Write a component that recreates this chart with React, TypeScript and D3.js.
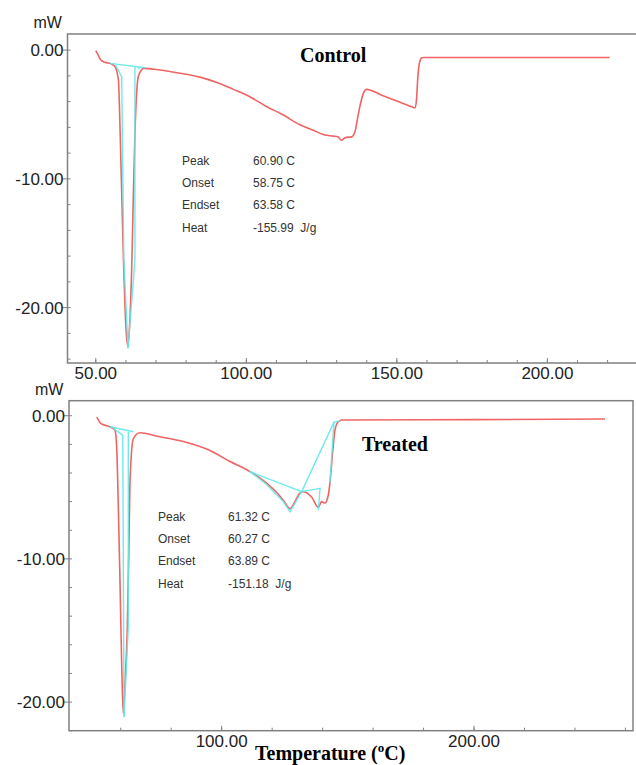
import { useEffect, useRef } from "react";
import * as d3 from "d3";

// Control DSC trace (temperature °C, heat flow mW)
const controlT = [50.0, 50.8, 51.6, 53, 55, 56.4, 57.5, 58.1, 58.7, 59.2, 60.0, 60.6, 61.2, 62.0, 62.5, 63.0, 63.6, 64.1, 65.0, 65.8, 71.3, 78, 84.6, 90, 95.7, 101, 106.8, 112, 117.8, 122, 126.1, 128.9, 130.5, 131.6, 132.5, 133.3, 135.0, 136.1, 136.8, 137.7, 138.8, 139.9, 145, 150, 155, 156.0, 156.5, 157.0, 157.6, 158.3, 159.3, 190, 220.7];
const controlV = [-0.05, -0.4, -0.75, -0.95, -1.05, -1.3, -2.3, -6.5, -12, -16.3, -21.5, -23.0, -21.5, -16.3, -11, -6.5, -3.2, -2.07, -1.6, -1.42, -1.55, -1.8, -2.1, -2.5, -3.05, -3.6, -4.4, -5.0, -5.8, -6.2, -6.6, -6.68, -6.75, -7.0, -6.85, -6.78, -6.74, -6.35, -5.5, -4.4, -3.4, -3.05, -3.5, -3.95, -4.4, -4.48, -3.9, -2.0, -0.9, -0.6, -0.57, -0.57, -0.58];

// Treated DSC trace
const treatedT = [50.5, 51.2, 51.8, 53.5, 55.7, 57.7, 58.4, 59.0, 59.7, 60.4, 61.0, 61.6, 62.6, 63.2, 63.7, 65.0, 67.6, 75, 84.8, 95, 103.3, 111.2, 117.8, 122, 124.4, 127.1, 128.4, 131.0, 132.3, 135.7, 138.3, 139.6, 140.9, 142.3, 142.9, 144.0, 144.9, 146.2, 147.6, 200, 251.9];
const treatedV = [-0.1, -0.3, -0.49, -0.65, -0.77, -1.0, -2.2, -6.0, -11.5, -17.5, -20.8, -19.0, -14.8, -9.5, -4.5, -1.6, -1.19, -1.45, -1.8, -2.4, -3.2, -3.9, -4.7, -5.4, -5.9, -6.5, -6.2, -5.4, -5.3, -5.7, -6.4, -6.0, -6.1, -5.5, -4.7, -2.5, -1.0, -0.42, -0.3, -0.27, -0.23];

// cyan baseline / integration construction lines
const controlCyan: [number, number][][] = [
  [[54.8, -1.03], [66.4, -1.37]],
  [[56.5, -1.15], [58.6, -2.07], [59.3, -16.2], [60.7, -23.15]],
  [[63.0, -1.3], [63.0, -16.3], [60.7, -23.15]],
  [[64.1, -1.45], [64.7, -1.36]],
];
const treatedCyan: [number, number][][] = [
  [[55.7, -0.77], [65.0, -1.12]],
  [[57.0, -0.88], [60.8, -1.35], [61.3, -21.05]],
  [[63.0, -1.12], [63.0, -14.75], [61.3, -21.05]],
  [[111.2, -3.9], [131.7, -5.3]],
  [[111.2, -3.9], [117.8, -4.8], [124.4, -6.0], [127.1, -6.7], [131.7, -5.3]],
  [[131.7, -5.3], [139.0, -5.07], [138.3, -6.6]],
  [[131.7, -5.3], [144.5, -0.45], [147.0, -0.35]],
  [[144.5, -0.45], [142.9, -4.7]],
];

const controlStats = [
  ["Peak", "60.90 C"],
  ["Onset", "58.75 C"],
  ["Endset", "63.58 C"],
  ["Heat", "-155.99  J/g"],
];
const treatedStats = [
  ["Peak", "61.32 C"],
  ["Onset", "60.27 C"],
  ["Endset", "63.89 C"],
  ["Heat", "-151.18  J/g"],
];

const yMajor = [0, -10, -20];
const controlXMajor = [50, 100, 150, 200];
const treatedXMajor = [100, 200];

const RED = "#f06464";
const CYAN = "#5fe8e8";
const FRAME = "#808080";
const SANS = "Arial, 'Liberation Sans', sans-serif";
const SERIF = "'Times New Roman', 'Liberation Serif', serif";

interface PanelProps {
  t: number[];
  v: number[];
  cyan: [number, number][][];
  xDomain: [number, number];
  yDomain: [number, number];
  box: { left: number; right: number; top: number; bottom: number };
  xMajor: number[];
  xMinor: number[];
  yMinor: number[];
  stats: string[][];
  statsPos: { x: number; vx: number; y: number };
  title: string;
  titlePos: { x: number; y: number };
  closed: boolean;
}

const Panel = (p: PanelProps) => {
  const ref = useRef<SVGGElement | null>(null);

  useEffect(() => {
    const g = d3.select(ref.current);
    g.selectAll("*").remove();

    const x = d3.scaleLinear().domain(p.xDomain).range([p.box.left, p.box.right]);
    const y = d3.scaleLinear().domain(p.yDomain).range([p.box.top, p.box.bottom]);
    const fmt = (d: number) => d.toFixed(2); // plain hyphen like the instrument software

    // frame
    if (p.closed) {
      g.append("rect")
        .attr("x", p.box.left)
        .attr("y", p.box.top)
        .attr("width", p.box.right - p.box.left)
        .attr("height", p.box.bottom - p.box.top)
        .attr("fill", "none")
        .attr("stroke", FRAME)
        .attr("stroke-width", 1.5);
    } else {
      g.append("path")
        .attr("d", `M${p.box.right + 10},${p.box.top}H${p.box.left}V${p.box.bottom}H${p.box.right + 10}`)
        .attr("fill", "none")
        .attr("stroke", FRAME)
        .attr("stroke-width", 1.5);
    }

    // x ticks (inside)
    g.selectAll("line.xmin")
      .data(p.xMinor)
      .join("line")
      .attr("x1", (d) => x(d))
      .attr("x2", (d) => x(d))
      .attr("y1", p.box.bottom)
      .attr("y2", p.box.bottom - 3)
      .attr("stroke", FRAME);
    g.selectAll("line.xmaj")
      .data(p.xMajor)
      .join("line")
      .attr("x1", (d) => x(d))
      .attr("x2", (d) => x(d))
      .attr("y1", p.box.bottom)
      .attr("y2", p.box.bottom - 5)
      .attr("stroke", FRAME);
    g.selectAll("text.xl")
      .data(p.xMajor)
      .join("text")
      .attr("x", (d) => x(d))
      .attr("y", p.box.bottom + 16)
      .attr("text-anchor", "middle")
      .attr("font-family", SANS)
      .attr("font-size", 17)
      .attr("fill", "#222")
      .text(fmt);

    // y ticks
    g.selectAll("line.ymin")
      .data(p.yMinor)
      .join("line")
      .attr("x1", p.box.left)
      .attr("x2", p.box.left + 3)
      .attr("y1", (d) => y(d))
      .attr("y2", (d) => y(d))
      .attr("stroke", FRAME);
    g.selectAll("line.ymaj")
      .data(yMajor)
      .join("line")
      .attr("x1", p.box.left - 5)
      .attr("x2", p.box.left)
      .attr("y1", (d) => y(d))
      .attr("y2", (d) => y(d))
      .attr("stroke", FRAME);
    g.selectAll("text.yl")
      .data(yMajor)
      .join("text")
      .attr("x", p.box.left - 4)
      .attr("y", (d) => y(d) + 6)
      .attr("text-anchor", "end")
      .attr("font-family", SANS)
      .attr("font-size", 17)
      .attr("fill", "#222")
      .text(fmt);

    g.append("text")
      .attr("x", p.box.left - 34)
      .attr("y", p.box.top - 6)
      .attr("font-family", SANS)
      .attr("font-size", 16)
      .attr("fill", "#222")
      .text("mW");

    // red trace
    const pts = p.t.map((d, i) => [d, p.v[i]] as [number, number]);
    const line = d3
      .line<[number, number]>()
      .x((d) => x(d[0]))
      .y((d) => y(d[1]))
      .curve(d3.curveMonotoneX);
    g.append("path").attr("d", line(pts)).attr("fill", "none").attr("stroke", RED).attr("stroke-width", 1.6);

    // cyan construction lines
    const seg = d3
      .line<[number, number]>()
      .x((d) => x(d[0]))
      .y((d) => y(d[1]));
    g.selectAll("path.cy")
      .data(p.cyan)
      .join("path")
      .attr("d", (d) => seg(d))
      .attr("fill", "none")
      .attr("stroke", CYAN)
      .attr("stroke-width", 1.4)
      .attr("opacity", 0.9);

    // stats text
    p.stats.forEach((row, i) => {
      g.append("text")
        .attr("x", p.statsPos.x)
        .attr("y", p.statsPos.y + i * 22.2)
        .attr("font-family", SANS)
        .attr("font-size", 12)
        .attr("fill", "#333")
        .text(row[0]);
      g.append("text")
        .attr("x", p.statsPos.vx)
        .attr("y", p.statsPos.y + i * 22.2)
        .attr("font-family", SANS)
        .attr("font-size", 12)
        .attr("fill", "#333")
        .style("white-space", "pre")
        .text(row[1]);
    });

    g.append("text")
      .attr("x", p.titlePos.x)
      .attr("y", p.titlePos.y)
      .attr("font-family", SERIF)
      .attr("font-weight", "bold")
      .attr("font-size", 20)
      .attr("fill", "#000")
      .text(p.title);
  }, []);

  return <g ref={ref} />;
};

const App = () => {
  return (
    <svg width={636} height={765} style={{ position: "absolute", left: 0, top: 0, background: "#fff" }}>
      <Panel
        t={controlT}
        v={controlV}
        cyan={controlCyan}
        xDomain={[40.6, 229.6]}
        yDomain={[1.25, -24.3]}
        box={{ left: 67.5, right: 636.5, top: 34, bottom: 363 }}
        xMajor={controlXMajor}
        xMinor={d3.range(50, 221, 10)}
        yMinor={d3.range(-24, 1, 2)}
        stats={controlStats}
        statsPos={{ x: 182, vx: 253, y: 165 }}
        title="Control"
        titlePos={{ x: 300, y: 62 }}
        closed={false}
      />
      <Panel
        t={treatedT}
        v={treatedV}
        cyan={treatedCyan}
        xDomain={[39.5, 263]}
        yDomain={[1.05, -22.0]}
        box={{ left: 69, right: 633, top: 400.7, bottom: 730.7 }}
        xMajor={treatedXMajor}
        xMinor={d3.range(60, 261, 20)}
        yMinor={d3.range(-22, 1, 2)}
        stats={treatedStats}
        statsPos={{ x: 158, vx: 228, y: 521 }}
        title="Treated"
        titlePos={{ x: 362, y: 451 }}
        closed={true}
      />
      <text x={255} y={760} fontFamily={SERIF} fontWeight="bold" fontSize={20} fill="#000">
        Temperature (<tspan fontSize={13} dy={-8}>o</tspan>
        <tspan dy={8}>C)</tspan>
      </text>
    </svg>
  );
};

export default App;
